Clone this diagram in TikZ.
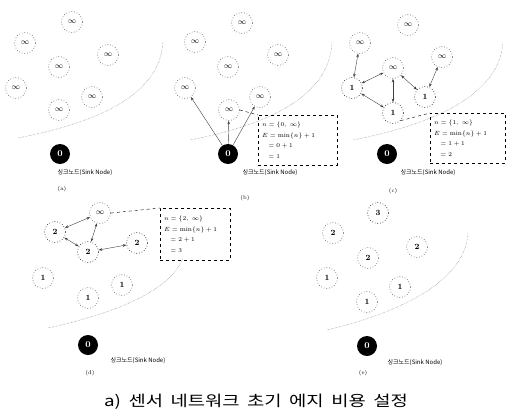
\documentclass[tikz,border=0pt]{standalone}
\usepackage{fontspec}
\newfontfamily\kr{Noto Sans CJK KR}
\newfontfamily\krwide[FakeStretch=1.25, WordSpace=1.8]{Noto Sans CJK KR}
\usetikzlibrary{arrows.meta}

\tikzset{
  snode/.style={circle, draw=black!55, dotted, line width=0.7pt, minimum size=21pt, inner sep=0pt, font=\fontsize{8}{8}\selectfont},
  sink/.style={circle, fill=black, text=white, minimum size=20pt, inner sep=0pt, font=\bfseries\fontsize{9}{9}\selectfont},
  costbox/.style={draw, dashed, anchor=north west, text width=71pt, minimum height=50pt, inner xsep=4pt, inner ysep=4pt, align=left, font=\fontsize{6.5}{10.5}\selectfont},
  lead/.style={dashed},
  field/.style={black!60, densely dotted},
  msg/.style={-{Stealth[length=3.5pt]}, black!75},
  msgs/.style={{Stealth[length=3.5pt]}-{Stealth[length=3.5pt]}, black!75},
  lbl/.style={font=\kr\fontsize{6}{7}\selectfont},
  tag/.style={font=\fontsize{5.5}{6}\selectfont},
}

\begin{document}
\begin{tikzpicture}[x=1pt, y=-1pt]
\useasboundingbox (0,0) rectangle (511,418);

% (a) every node starts at infinity
\foreach \n/\x/\y in {1/72/22, 2/25/43, 3/108/55, 4/59/67, 5/16/88, 6/92/97, 7/59/110}
    \node[snode] (a\n) at (\x,\y) {$\infty$};
\node[sink] (a0) at (60,154) {0};
\node[lbl] (a0l) at (85,173) {싱크노드(Sink Node)};
\node[tag] (atag) at (62,189) {(a)};
\draw[field] (18,138) .. controls (110,120) and (160,90) .. (163,42);

% (b) sink sends its cost
\foreach \n/\x/\y in {1/242/23, 2/195/42, 3/278/55, 4/228/67, 5/185/88, 6/260/97, 7/229/110}
    \node[snode] (b\n) at (\x,\y) {$\infty$};
\node[sink] (b0) at (228,154) {0};
\node[lbl] (b0l) at (270,173) {싱크노드(Sink Node)};
\node[tag] (btag) at (245,198) {(b)};
\draw[field] (190,140) .. controls (282,122) and (330,90) .. (332,42);
\foreach \n in {5,7,6}
    \draw[msg] (b0) -- (b\n);
\node[costbox] (bbox) at (258,115) {%
    $n = \{0,\ \infty\}$\\
    $E = \min\{n\} + 1$\\
    \quad$= 0 + 1$\\
    \quad$= 1$};
\draw[lead] (b7.east) -- (bbox.north west);

% (c) nodes with cost 1 pass it on
\foreach \n/\x/\y in {1/408/25, 2/360/43, 3/442/57, 4/393/68}
    \node[snode] (c\n) at (\x,\y) {$\infty$};
\foreach \n/\x/\y in {5/352/88, 6/425/97, 7/393/113}
    \node[snode, draw=black!80] (c\n) at (\x,\y) {\textbf{1}};
\node[sink] (c0) at (387,154) {0};
\node[lbl] (c0l) at (428,173) {싱크노드(Sink Node)};
\node[tag] (ctag) at (393,191) {(c)};
\draw[field] (353,140) .. controls (445,122) and (500,90) .. (503,42);
\draw[msgs] (c5) -- (c2);
\draw[msgs] (c5) -- (c4);
\draw[msgs] (c5) -- (c7);
\draw[msgs] (c7) -- (c4);
\draw[msgs] (c6) -- (c4);
\draw[msgs] (c6) -- (c3);
\node[costbox, text width=67pt] (cbox) at (430,113) {%
    $n = \{1,\ \infty\}$\\
    $E = \min\{n\} + 1$\\
    \quad$= 1 + 1$\\
    \quad$= 2$};
\draw[lead] (c7.south east) -- (cbox.north west);

% (d) nodes with cost 2 pass it on
\node[snode] (d1) at (100,213) {$\infty$};
\foreach \n/\x/\y in {2/55/232, 3/137/243, 4/88/252}
    \node[snode, draw=black!80] (d\n) at (\x,\y) {\textbf{2}};
\foreach \n/\x/\y in {5/43/278, 6/122/285, 7/88/298}
    \node[snode] (d\n) at (\x,\y) {\textbf{1}};
\node[sink] (d0) at (88,345) {0};
\node[lbl] (d0l) at (138,361) {싱크노드(Sink Node)};
\node[tag] (dtag) at (90,373) {(d)};
\draw[field] (48,328) .. controls (120,312) and (170,290) .. (183,258);
\draw[msgs] (d2) -- (d1);
\draw[msgs] (d4) -- (d1);
\draw[msgs] (d2) -- (d4);
\draw[msgs] (d3) -- (d4);
\node[costbox, text width=62pt, minimum height=52pt] (dbox) at (160,208) {%
    $n = \{2,\ \infty\}$\\
    $E = \min\{n\} + 1$\\
    \quad$= 2 + 1$\\
    \quad$= 3$};
\draw[lead] (d1.east) -- (dbox.north west);

% (e) final edge costs
\node[snode, draw=black!80] (e1) at (378,213) {\textbf{3}};
\foreach \n/\x/\y in {2/333/233, 3/417/247, 4/368/258}
    \node[snode] (e\n) at (\x,\y) {\textbf{2}};
\foreach \n/\x/\y in {5/327/278, 6/400/287, 7/367/302}
    \node[snode] (e\n) at (\x,\y) {\textbf{1}};
\node[sink] (e0) at (367,346) {0};
\node[lbl] (e0l) at (415,363) {싱크노드(Sink Node)};
\node[tag] (etag) at (363,373) {(e)};
\draw[field] (327,330) .. controls (390,315) and (465,285) .. (468,233);

\node[font=\krwide\fontsize{15}{15}\selectfont] (cap) at (256,402) {a) 센서 네트워크 초기 에지 비용 설정};
\end{tikzpicture}
\end{document}
